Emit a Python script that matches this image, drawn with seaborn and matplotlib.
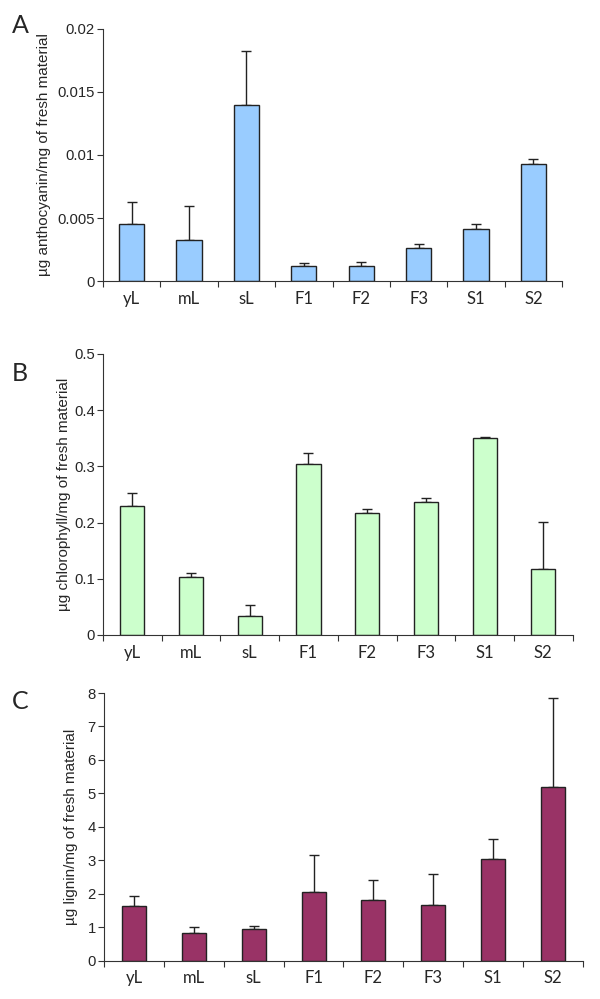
import numpy as np
import pandas as pd
import matplotlib
matplotlib.use("Agg")
import matplotlib.pyplot as plt
import seaborn as sns

categories = ["yL", "mL", "sL", "F1", "F2", "F3", "S1", "S2"]

anthocyanin = [0.00453, 0.00326, 0.01399, 0.00122, 0.00122, 0.0026, 0.00416, 0.00925]
anthocyanin_err = [0.00177, 0.00273, 0.00424, 0.00018, 0.00029, 0.00037, 0.0004, 0.00042]

chlorophyll = [0.229, 0.104, 0.0343, 0.3047, 0.217, 0.237, 0.350, 0.118]
chlorophyll_err = [0.0243, 0.006, 0.0184, 0.0183, 0.007, 0.007, 0.002, 0.0826]

lignin = [1.63, 0.83, 0.94, 2.05, 1.81, 1.66, 3.05, 5.20]
lignin_err = [0.31, 0.17, 0.09, 1.11, 0.61, 0.94, 0.58, 2.64]

sns.set_theme(style="ticks")
plt.rcParams['font.family'] = ['Liberation Sans', 'DejaVu Sans']

fig = plt.figure(figsize=(6, 9.99), dpi=100)

panels = [
    dict(vals=anthocyanin, err=anthocyanin_err, color="#99CCFF",
         ylabel="µg anthocyanin/mg of fresh material", ylim=(0, 0.02),
         yticks=[0, 0.005, 0.01, 0.015, 0.02], yticklabels=["0", "0.005", "0.01", "0.015", "0.02"],
         rect=[0.1717, 0.7187, 0.765, 0.2523], letter="A", lpos=(0.02, 0.986), width=0.44,
         lx=-0.128),
    dict(vals=chlorophyll, err=chlorophyll_err, color="#CCFFCC",
         ylabel="µg chlorophyll/mg of fresh material", ylim=(0, 0.5),
         yticks=[0, 0.1, 0.2, 0.3, 0.4, 0.5], yticklabels=["0", "0.1", "0.2", "0.3", "0.4", "0.5"],
         rect=[0.1717, 0.3644, 0.7827, 0.2813], letter="B", lpos=(0.02, 0.638), width=0.41,
         lx=-0.083),
    dict(vals=lignin, err=lignin_err, color="#993366",
         ylabel="µg lignin/mg of fresh material", ylim=(0, 8),
         yticks=list(range(0, 9)), yticklabels=[str(i) for i in range(0, 9)],
         rect=[0.1733, 0.0383, 0.7983, 0.268], letter="C", lpos=(0.02, 0.309), width=0.40,
         lx=-0.068),
]

for p in panels:
    ax = fig.add_axes(p["rect"])
    df = pd.DataFrame({"cat": categories, "val": p["vals"]})
    sns.barplot(data=df, x="cat", y="val", color=p["color"], saturation=1,
                edgecolor="#222222", linewidth=1.0, width=p["width"], ax=ax, zorder=2)
    x = np.arange(len(categories))
    ax.errorbar(x, p["vals"], yerr=[np.zeros(len(categories)), p["err"]], fmt="none",
                ecolor="#222222", elinewidth=1.0, capsize=3.5, capthick=1.0, zorder=1)
    ax.set_xlim(-0.5, len(categories) - 0.5)
    ax.set_ylim(*p["ylim"])
    ax.set_yticks(p["yticks"])
    ax.set_yticklabels(p["yticklabels"], fontsize=10.7)
    ax.set_xticks(np.arange(-0.5, len(categories) + 0.5, 1.0))
    ax.set_xticklabels([])
    ax.set_xticks(x, minor=True)
    ax.set_xticklabels(categories, minor=True, fontsize=12, family=['Lato', 'DejaVu Sans'])
    ax.tick_params(axis="x", which="minor", length=0, pad=7)
    ax.tick_params(axis="x", which="major", length=4, width=0.8, color="#333333")
    ax.tick_params(axis="y", length=4, width=0.8, color="#333333", pad=2)
    ax.set_xlabel("")
    ax.set_ylabel(p["ylabel"], fontsize=11, va="center")
    ax.yaxis.set_label_coords(p["lx"], 0.5)
    for s in ["top", "right"]:
        ax.spines[s].set_visible(False)
    for s in ["left", "bottom"]:
        ax.spines[s].set_linewidth(0.8)
        ax.spines[s].set_color("#333333")
    fig.text(p["lpos"][0], p["lpos"][1], p["letter"], fontsize=18,
             family=['Lato', 'DejaVu Sans'], va="top", ha="left")

fig.savefig("out.png", dpi=100)
